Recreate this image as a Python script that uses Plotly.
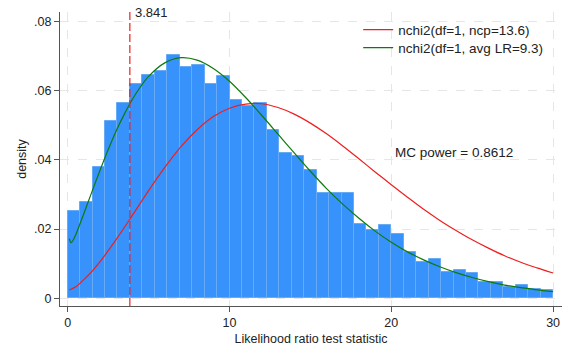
import plotly.graph_objects as go

# Histogram (density) of the LR test statistic: 39 equal bins from 0 to 30
bin_start = 0.0
bin_end = 30.0
densities = [0.0253, 0.0279, 0.0380, 0.0512, 0.0564, 0.0619, 0.0646, 0.0656, 0.0704,
             0.0669, 0.0674, 0.0619, 0.0642, 0.0574, 0.0556, 0.0564, 0.0486, 0.0420,
             0.0412, 0.0371, 0.0305, 0.0305, 0.0303, 0.0215, 0.0197, 0.0212, 0.0185,
             0.0133, 0.0104, 0.0114, 0.0077, 0.0082, 0.0072, 0.0048, 0.0046, 0.0032,
             0.0038, 0.0027, 0.0024]

# nchi2(df=1, ncp=13.6) curve
red_x = [0.1, 0.5, 1, 1.5, 2, 3, 4, 5, 6, 7, 8, 9, 10, 11, 12, 13, 14, 15, 16, 17,
         18, 19, 20, 21, 22, 23, 24, 25, 26, 27, 28, 29, 30]
red_y = [0.0024, 0.0033, 0.0054, 0.0078, 0.0106, 0.0170, 0.0240, 0.0311, 0.0378,
         0.0438, 0.0487, 0.0525, 0.0549, 0.0561, 0.0562, 0.0551, 0.0532, 0.0506,
         0.0475, 0.0440, 0.0403, 0.0365, 0.0328, 0.0292, 0.0257, 0.0225, 0.0196,
         0.0169, 0.0145, 0.0123, 0.0104, 0.0088, 0.0073]

# nchi2(df=1, avg LR=9.3) curve
green_x = [0.1, 0.2, 0.3, 0.5, 1, 1.5, 2, 2.5, 3, 3.5, 4, 4.5, 5, 6, 7, 8, 9, 10, 11,
           12, 13, 14, 15, 16, 17, 18, 19, 20, 21, 22, 23, 24, 25, 26, 27, 28, 29, 30]
green_y = [0.0172, 0.0161, 0.0165, 0.0184, 0.0245, 0.0308, 0.0370, 0.0429, 0.0484,
           0.0532, 0.0575, 0.0611, 0.0641, 0.0680, 0.0695, 0.0688, 0.0664, 0.0627,
           0.0580, 0.0528, 0.0474, 0.0420, 0.0367, 0.0317, 0.0272, 0.0231, 0.0194,
           0.0162, 0.0134, 0.0111, 0.0091, 0.0074, 0.0060, 0.0048, 0.0038, 0.0031,
           0.0024, 0.0019]

critical_value = 3.841
critical_label = "3.841"
power_text = "MC power = 0.8612"
power_pos = (20.0, 0.042)

red_name = "nchi2(df=1, ncp=13.6)"
green_name = "nchi2(df=1, avg LR=9.3)"

x_ticks = [0, 10, 20, 30]
x_ticklabels = ["0", "10", "20", "30"]
y_ticks = [0, 0.02, 0.04, 0.06, 0.08]
y_ticklabels = ["0", ".02", ".04", ".06", ".08"]

n_bins = len(densities)
width = (bin_end - bin_start) / n_bins
centers = [bin_start + (i + 0.5) * width for i in range(n_bins)]

FONT = "Liberation Sans, Arial, sans-serif"
TXT = "#222222"
RED = "#F01E1E"
GREEN = "#0E7A0E"

fig = go.Figure()
fig.add_trace(go.Bar(
    x=centers, y=densities, width=width,
    marker=dict(color="#3792FB", line=dict(color="#67ABF4", width=1)),
    showlegend=False, hoverinfo="skip",
))
fig.add_trace(go.Scatter(
    x=red_x, y=red_y, mode="lines", name=red_name, legend="legend",
    line=dict(color=RED, width=1.2, shape="spline", smoothing=0.8),
))
fig.add_trace(go.Scatter(
    x=green_x, y=green_y, mode="lines", name=green_name, legend="legend2",
    line=dict(color=GREEN, width=1.2, shape="spline", smoothing=0.8),
))

fig.add_shape(type="line", x0=critical_value, x1=critical_value, xref="x",
              y0=0, y1=1, yref="paper",
              line=dict(color=RED, width=1.2, dash="8px,3px"))

fig.add_annotation(x=critical_value, y=1, xref="x", yref="paper", text=critical_label,
                   showarrow=False, xanchor="left", yanchor="middle", xshift=3, yshift=0,
                   font=dict(family=FONT, size=13, color=TXT))
fig.add_annotation(x=power_pos[0], y=power_pos[1], xref="x", yref="y", text=power_text,
                   showarrow=False, xanchor="left", yanchor="middle", xshift=2,
                   font=dict(family=FONT, size=13.5, color=TXT))

legend_style = dict(xanchor="left", yanchor="top", bgcolor="rgba(0,0,0,0)",
                    font=dict(family=FONT, size=13.5, color=TXT), itemwidth=30)

fig.update_layout(
    width=562, height=350,
    margin=dict(l=60, r=0, t=12, b=44),
    paper_bgcolor="white", plot_bgcolor="white",
    bargap=0,
    font=dict(family=FONT, size=12, color=TXT),
    legend=dict(x=0.594, y=0.992, **legend_style),
    legend2=dict(x=0.594, y=0.931, **legend_style),
    xaxis=dict(
        range=[-0.476, 30.55], tickvals=x_ticks, ticktext=x_ticklabels,
        showgrid=True, gridcolor="#E6E6E6", griddash="dash", gridwidth=1,
        zeroline=False, showline=True, linecolor="#555555", linewidth=1,
        ticks="outside", ticklen=5, tickcolor="#555555",
        title=dict(text="Likelihood ratio test statistic", standoff=5,
                   font=dict(family=FONT, size=12.5, color=TXT)),
        tickfont=dict(family=FONT, size=12.5, color=TXT),
    ),
    yaxis=dict(
        range=[-0.00223, 0.0827], tickvals=y_ticks, ticktext=y_ticklabels,
        showgrid=True, gridcolor="#E6E6E6", griddash="dash", gridwidth=1,
        zeroline=False, showline=True, linecolor="#555555", linewidth=1,
        ticks="outside", ticklen=5, tickcolor="#555555",
        title=dict(text="density", standoff=4,
                   font=dict(family=FONT, size=12.5, color=TXT)),
        tickfont=dict(family=FONT, size=12.5, color=TXT),
    ),
)

fig.write_html("out.html")
